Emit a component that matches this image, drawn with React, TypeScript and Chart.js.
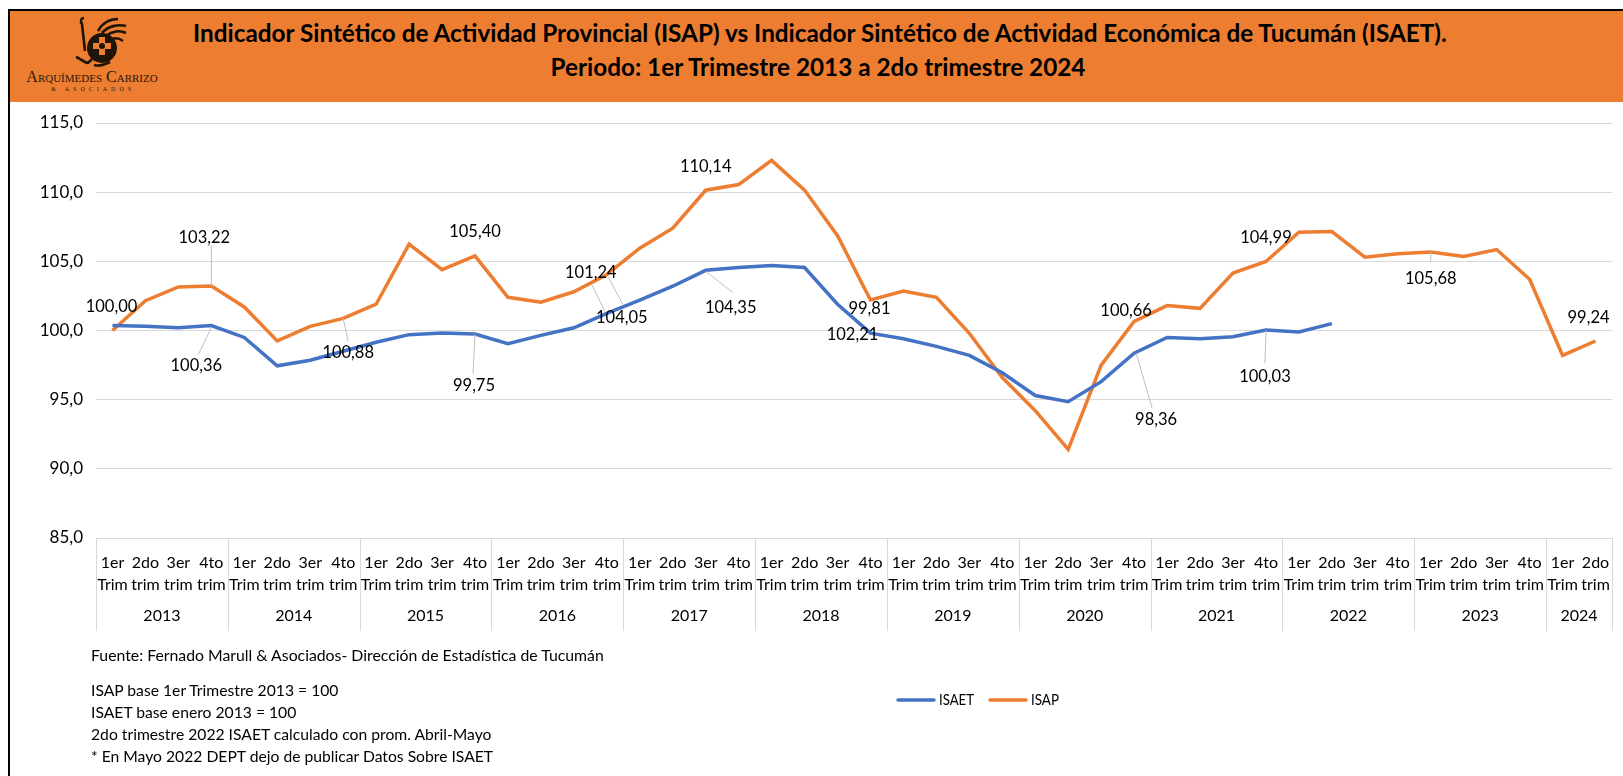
import React, { useEffect, useRef } from "react";
import { Chart, registerables } from "chart.js";

Chart.register(...registerables);

const quarterTop = ["1er", "2do", "3er", "4to"];
const years = ["2013", "2014", "2015", "2016", "2017", "2018", "2019", "2020", "2021", "2022", "2023", "2024"];
const quartersPerYear = [4, 4, 4, 4, 4, 4, 4, 4, 4, 4, 4, 2];
const isaet = [
  100.36, 100.3, 100.2, 100.36, 99.5, 97.45, 97.85, 98.5, 99.15, 99.7, 99.82, 99.75,
  99.05, 99.65, 100.2, 101.24, 102.2, 103.2, 104.35, 104.55, 104.7, 104.55, 101.9, 99.81,
  99.4, 98.85, 98.2, 96.95, 95.3, 94.85, 96.3, 98.36, 99.5, 99.4, 99.55, 100.03, 99.9, 100.5,
];
const isap = [
  100.0, 102.15, 103.15, 103.22, 101.7, 99.25, 100.3, 100.88, 101.9, 106.25, 104.4, 105.4,
  102.4, 102.05, 102.8, 104.05, 105.95, 107.4, 110.14, 110.55, 112.3, 110.15, 106.85, 102.21,
  102.85, 102.4, 99.8, 96.6, 94.2, 91.4, 97.5, 100.66, 101.8, 101.6, 104.15, 104.99,
  107.1, 107.15, 105.3, 105.55, 105.68, 105.35, 105.85, 103.7, 98.2, 99.24,
];
// series, point, text, label offset x/y from the point, leader offsets (x1,y1,x2,y2) or null
type Callout = [number, number, string, number, number, number[] | null];
const callouts: Callout[] = [
  [1, 0, "100,00", -1, -24, null],
  [1, 3, "103,22", -7, -48, [0, 0, 0, -41]],
  [1, 7, "100,88", 5, 34, [0, 0, 5, 23]],
  [0, 3, "100,36", -15, 40, [0, 2, -13, 29]],
  [1, 11, "105,40", 0, -24, null],
  [0, 11, "99,75", -1, 52, [0, 0, -2, 40]],
  [0, 15, "101,24", -16, -41, [1, -37, 16, -9]],
  [1, 15, "104,05", 15, 43, [-15, 10, -2, 37]],
  [1, 18, "110,14", 0, -24, null],
  [0, 18, "104,35", 25, 37, [0, 1, 27, 22]],
  [1, 23, "102,21", -18, 35, null],
  [0, 23, "99,81", -1, -24, null],
  [1, 31, "100,66", -8, -11, null],
  [0, 31, "98,36", 22, 66, [2, 0, 18, 55]],
  [1, 35, "104,99", 0, -24, null],
  [0, 35, "100,03", -1, 47, [0, 0, -1, 33]],
  [1, 40, "105,68", 0, 27, [0, 0, 0, 10]],
  [1, 45, "99,24", -7, -23, null],
];
const titleLines = [
  "Indicador Sintético de Actividad Provincial (ISAP) vs Indicador Sintético de Actividad Económica de Tucumán (ISAET).",
  "Periodo: 1er Trimestre 2013 a 2do trimestre 2024",
];
const sourceNote = "Fuente: Fernado Marull & Asociados- Dirección de Estadística de Tucumán";
const notes = [
  "ISAP base 1er Trimestre 2013 = 100",
  "ISAET base enero 2013 = 100",
  "2do trimestre 2022 ISAET calculado con prom. Abril-Mayo",
  "* En Mayo 2022 DEPT dejo de publicar Datos Sobre ISAET",
];

const labels: string[][] = [];
quartersPerYear.forEach((n) => {
  for (let q = 0; q < n; q++) labels.push([quarterTop[q], q === 0 ? "Trim" : "trim"]);
});

const FONT = "Lato";
const GRID = "#d9d9d9";
const BLUE = "#4472c4";
const ORANGE = "#ed7d31";

const overlay = {
  id: "overlay",
  afterDraw(chart: any) {
    const { ctx, scales } = chart;
    const x = scales.x;
    const y = scales.y;
    const bottom = y.bottom;
    ctx.save();
    ctx.strokeStyle = GRID;
    ctx.lineWidth = 1;
    ctx.fillStyle = "#000";
    ctx.font = `16px ${FONT}`;
    ctx.textAlign = "center";
    ctx.textBaseline = "middle";
    let idx = 0;
    const step = x.getPixelForValue(1) - x.getPixelForValue(0);
    const edge = (i: number) => x.getPixelForValue(i) - step / 2;
    quartersPerYear.forEach((n, k) => {
      const a = edge(idx);
      ctx.beginPath();
      ctx.moveTo(Math.round(a) + 0.5, bottom);
      ctx.lineTo(Math.round(a) + 0.5, bottom + 93);
      ctx.stroke();
      ctx.fillText(years[k], a + (n * step) / 2, bottom + 78);
      idx += n;
    });
    const end = edge(idx);
    ctx.beginPath();
    ctx.moveTo(Math.round(end) + 0.5, bottom);
    ctx.lineTo(Math.round(end) + 0.5, bottom + 93);
    ctx.stroke();
    // value callouts
    ctx.font = `16.5px ${FONT}`;
    callouts.forEach(([s, i, text, dx, dy, leader]) => {
      const px = x.getPixelForValue(i);
      const py = y.getPixelForValue(chart.data.datasets[s].data[i]);
      if (leader) {
        ctx.strokeStyle = "#bfbfbf";
        ctx.lineWidth = 1;
        ctx.beginPath();
        ctx.moveTo(px + leader[0], py + leader[1]);
        ctx.lineTo(px + leader[2], py + leader[3]);
        ctx.stroke();
      }
      ctx.fillStyle = "#000";
      ctx.fillText(text, px + dx, py + dy);
    });
    // legend
    const ly = 700;
    let lx = 898;
    ctx.font = `15px ${FONT}`;
    ctx.textAlign = "left";
    chart.data.datasets.forEach((d: any) => {
      ctx.strokeStyle = d.borderColor;
      ctx.lineWidth = 3.5;
      ctx.lineCap = "round";
      ctx.beginPath();
      ctx.moveTo(lx, ly);
      ctx.lineTo(lx + 36, ly);
      ctx.stroke();
      ctx.fillStyle = "#000";
      ctx.fillText(d.label, lx + 41, ly, d.label.length * 7);
      lx += 92;
    });
    ctx.restore();
  },
};

export default function App() {
  const ref = useRef<HTMLCanvasElement>(null);
  useEffect(() => {
    const chart = new Chart(ref.current!, {
      type: "line",
      data: {
        labels,
        datasets: [
          { label: "ISAET", data: isaet, borderColor: BLUE, borderWidth: 3.5, pointRadius: 0, tension: 0, fill: false },
          { label: "ISAP", data: isap, borderColor: ORANGE, borderWidth: 3.5, pointRadius: 0, tension: 0, fill: false },
        ],
      },
      options: {
        responsive: false,
        animation: false,
        layout: { padding: { top: 123, right: 11 } },
        plugins: { legend: { display: false }, title: { display: false }, tooltip: { enabled: false } },
        scales: {
          x: {
            type: "category",
            offset: true,
            border: { display: false },
            grid: { display: false },
            afterFit(scale: any) {
              scale.height = 238;
            },
            ticks: {
              autoSkip: false,
              maxRotation: 0,
              minRotation: 0,
              padding: 5,
              color: "#000",
              font: { family: FONT, size: 16, lineHeight: 1.43 },
            },
          },
          y: {
            min: 85,
            max: 115,
            border: { display: false },
            grid: { color: GRID, lineWidth: 1, drawTicks: false },
            afterFit(scale: any) {
              scale.width = 96;
            },
            ticks: {
              stepSize: 5,
              padding: 13,
              color: "#000",
              font: { family: FONT, size: 17 },
              callback: (v: any) => Number(v).toFixed(1).replace(".", ","),
            },
          },
        },
      },
      plugins: [overlay],
    });
    return () => chart.destroy();
  }, []);

  return (
    <div style={{ position: "fixed", left: 0, top: 0, width: 1623, height: 776, background: "#fff", overflow: "hidden", fontFamily: FONT }}>
      <canvas ref={ref} width={1623} height={776} style={{ position: "absolute", left: 0, top: 0 }} />
      <div style={{ position: "absolute", left: 8, top: 9, width: 1615, height: 2, background: "#000" }} />
      <div style={{ position: "absolute", left: 8, top: 9, width: 2, height: 767, background: "#000" }} />
      <div style={{ position: "absolute", left: 10, top: 11, width: 1613, height: 91, background: ORANGE }} />
      <div style={{ position: "absolute", left: 193, top: 16, width: 1250, textAlign: "center", fontWeight: 700, fontSize: 24.3, lineHeight: "34px", color: "#000", whiteSpace: "nowrap" }}>
        {titleLines.map((t) => (
          <div key={t}>{t}</div>
        ))}
      </div>
      <div style={{ position: "absolute", left: 23, top: 68, width: 138, textAlign: "center", fontFamily: "Liberation Serif", fontSize: 16, color: "#2a1a0a", fontVariant: "small-caps", whiteSpace: "nowrap" }}>Arquímedes Carrizo</div>
      <div style={{ position: "absolute", left: 25, top: 86, width: 136, textAlign: "center", fontFamily: "Liberation Serif", fontSize: 6, letterSpacing: 4, color: "#2a1a0a", whiteSpace: "nowrap" }}>&amp; ASOCIADOS</div>
      <svg style={{ position: "absolute", left: 74, top: 15 }} width="54" height="54" viewBox="0 0 54 54">
        <circle cx="28" cy="33" r="15" fill="#1e1408" />
        <path d="M25 22h6v6h6v6h-6v6h-6v-6h-6v-6h6z" fill="#ed7d31" />
        <circle cx="28" cy="31" r="3" fill="#1e1408" />
        <path d="M10 3C7 3 6 7 8 9L11 36M24 16C29 7 36 4 44 4M28 18C34 11 44 9 52 11M32 21C38 16 46 15 52 18M36 25C41 22 45 23 49 26M2 42C8 44 12 50 15 47L18 44M20 50C26 52 32 49 36 47" stroke="#1e1408" strokeWidth="2.6" fill="none" />
      </svg>
      <div style={{ position: "absolute", left: 91, top: 645, fontSize: 15.8, color: "#000", whiteSpace: "nowrap" }}>{sourceNote}</div>
      <div style={{ position: "absolute", left: 91, top: 679, fontSize: 15.7, lineHeight: "22px", color: "#000", whiteSpace: "nowrap" }}>
        {notes.map((n) => (
          <div key={n}>{n}</div>
        ))}
      </div>
    </div>
  );
}
